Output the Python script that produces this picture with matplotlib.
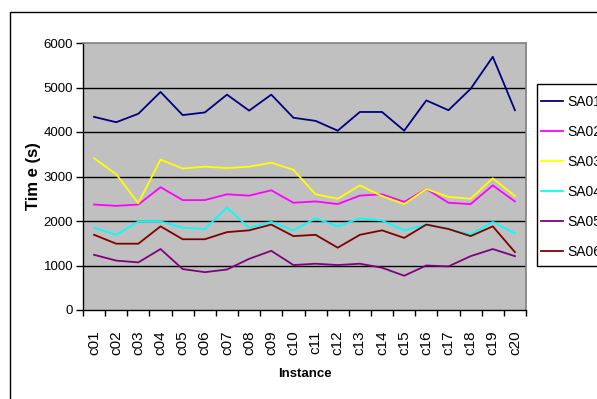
import matplotlib
matplotlib.use("Agg")
import matplotlib.pyplot as plt
from matplotlib import font_manager
from matplotlib.patches import Rectangle
import numpy as np

plt.rcParams['font.family'] = ['Liberation Sans', 'DejaVu Sans']

installed = {f.name for f in font_manager.fontManager.ttflist}
narrow = 'Liberation Sans Narrow' if 'Liberation Sans Narrow' in installed else 'Liberation Sans'

instances = ["c01", "c02", "c03", "c04", "c05", "c06", "c07", "c08", "c09", "c10",
             "c11", "c12", "c13", "c14", "c15", "c16", "c17", "c18", "c19", "c20"]

sa01 = [4340, 4220, 4410, 4900, 4380, 4440, 4840, 4480, 4840, 4320,
        4250, 4030, 4450, 4450, 4030, 4710, 4490, 4970, 5690, 4490]
sa02 = [2370, 2340, 2370, 2760, 2470, 2470, 2600, 2570, 2690, 2410,
        2440, 2380, 2570, 2600, 2430, 2720, 2410, 2380, 2800, 2440]
sa03 = [3410, 3050, 2400, 3380, 3180, 3220, 3190, 3220, 3310, 3150,
        2600, 2500, 2800, 2560, 2380, 2720, 2540, 2500, 2960, 2560]
sa04 = [1850, 1690, 1990, 1990, 1850, 1820, 2300, 1850, 1980, 1790,
        2060, 1880, 2060, 2010, 1790, 1920, 1820, 1700, 1980, 1720]
sa05 = [1240, 1110, 1070, 1370, 920, 850, 910, 1150, 1330, 1010,
        1040, 1010, 1040, 950, 770, 1000, 980, 1210, 1370, 1210]
sa06 = [1690, 1490, 1490, 1880, 1590, 1590, 1750, 1790, 1920, 1660,
        1690, 1400, 1690, 1790, 1620, 1920, 1820, 1660, 1880, 1300]

series_names = ["SA01", "SA02", "SA03", "SA04", "SA05", "SA06"]
series_values = [sa01, sa02, sa03, sa04, sa05, sa06]
series_colors = ["#000080", "#FF00FF", "#FFFF00", "#00FFFF", "#800080", "#800000"]
y_ticks = [0, 1000, 2000, 3000, 4000, 5000, 6000]

W, H = 597, 399
fig = plt.figure(figsize=(W / 100, H / 100), dpi=100)

# outer chart frame
fig.patches.append(Rectangle((10 / W, -0.1), 1.0, (1 - 12 / H) + 0.1,
                             transform=fig.transFigure, fill=False,
                             edgecolor="black", linewidth=1.0))

ax = fig.add_axes([83 / W, 1 - 310 / H, (526 - 83) / W, (310 - 43) / H])
ax.set_facecolor("#C0C0C0")

x = np.arange(len(instances))
lines = []
for name, vals, col in zip(series_names, series_values, series_colors):
    ln, = ax.plot(x, vals, color=col, linewidth=1.3, label=name, zorder=3)
    lines.append(ln)

ax.set_xlim(-0.5, len(instances) - 0.5)
ax.set_ylim(0, 6000)

# horizontal gridlines
for v in y_ticks[1:-1]:
    ax.axhline(v, color="black", linewidth=1.0, zorder=1)

ax.set_yticks(y_ticks)
ax.set_yticklabels([str(v) for v in y_ticks], fontsize=11 if narrow != 'Liberation Sans' else 9.5,
                   family=narrow)
ax.tick_params(axis="y", direction="out", length=5, width=1, pad=2)

# category boundaries carry the tick marks, labels sit at category centres
ax.set_xticks(np.arange(-0.5, len(instances), 1.0))
ax.set_xticklabels([])
ax.tick_params(axis="x", which="major", direction="out", length=4, width=1)
ax.set_xticks(x, minor=True)
ax.set_xticklabels(instances, minor=True, rotation=90, fontsize=11)
ax.tick_params(axis="x", which="minor", length=0, pad=15)

for side in ["top", "right"]:
    ax.spines[side].set_color("#808080")
    ax.spines[side].set_linewidth(1.2)
for side in ["left", "bottom"]:
    ax.spines[side].set_color("black")
    ax.spines[side].set_linewidth(1.0)

ax.set_ylabel("Tim e (s)", fontsize=12, fontweight="bold", labelpad=2)
ax.set_xlabel("Instance", fontsize=11 if narrow != 'Liberation Sans' else 9.5,
              fontweight="bold", family=narrow, labelpad=9)

# legend box and entries
fig.patches.append(Rectangle((537 / W, 1 - 266 / H), 0.2, (266 - 84) / H,
                             transform=fig.transFigure, facecolor="white",
                             edgecolor="black", linewidth=1.0, zorder=0))
fig.legend(handles=lines, labels=series_names, loc="upper left",
           bbox_to_anchor=(541 / W, 1 - 95 / H), bbox_transform=fig.transFigure,
           borderaxespad=0, borderpad=0, fontsize=10, frameon=False,
           handlelength=1.6, handletextpad=0.3, labelspacing=1.15)

fig.savefig("out.png", dpi=100)
